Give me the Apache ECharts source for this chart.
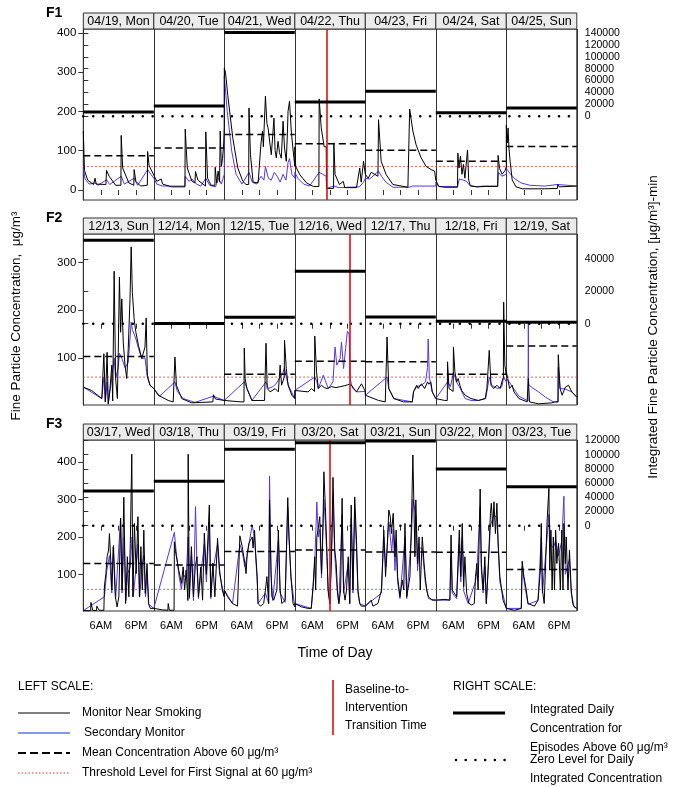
<!DOCTYPE html>
<html>
<head>
<meta charset="utf-8">
<script src="https://cdn.jsdelivr.net/npm/echarts@6/dist/echarts.min.js"></script>
<style>
  html, body { margin: 0; padding: 0; background: #fff; }
  #main { width: 683px; height: 787px; }
</style>
</head>
<body>
<div id="main"></div>
<script>
// ---- day strip labels ----
const f1Days = ['04/19, Mon', '04/20, Tue', '04/21, Wed', '04/22, Thu', '04/23, Fri', '04/24, Sat', '04/25, Sun'];
const f2Days = ['12/13, Sun', '12/14, Mon', '12/15, Tue', '12/16, Wed', '12/17, Thu', '12/18, Fri', '12/19, Sat'];
const f3Days = ['03/17, Wed', '03/18, Thu', '03/19, Fri', '03/20, Sat', '03/21, Sun', '03/22, Mon', '03/23, Tue'];

// ---- time series, one list of [hour of day, ug/m3] per day ----
const f1Black = [
  [[0,150],[0.4,50],[1.5,25],[3.5,14],[4.0,30],[4.4,15],[7.7,14],[7.9,50],[8.8,35],[11,12],[12.8,12],[12.9,139],[13.4,56],[15.5,18],[17.2,12],[17.3,52],[17.9,22],[19.5,10],[21.8,12],[21.9,98],[22.4,62],[24,38]],
  [[0,39],[1,22],[2.5,28],[3,15],[6,8],[10.6,8],[10.7,155],[11.4,56],[13,22],[14,18],[14.2,47],[15,25],[17.6,10],[17.7,148],[18.3,30],[19.5,12],[20.8,12],[20.9,58],[21.4,18],[21.9,48],[22.4,20],[22.6,150],[23,60],[23.4,80],[23.8,120],[24,160]],
  [[0,310],[0.4,300],[1.2,240],[2.9,132],[4.6,56],[6.3,22],[7.4,14],[8.3,14],[8.4,209],[8.9,90],[9.8,20],[11.5,18],[12.5,120],[13.0,150],[13.3,110],[14.0,239],[14.5,170],[14.9,158],[15.5,120],[16,90],[16.5,140],[16.9,183],[17.3,100],[17.7,82],[18.3,124],[18.8,95],[19.4,81],[20,175],[20.5,107],[21.1,73],[21.5,150],[21.7,200],[22.2,226],[22.8,150],[23.3,110],[24,60]],
  [[0,110],[0.3,60],[1.7,39],[4,18],[6.3,9],[8.2,9],[8.3,232],[9,158],[10,110],[10.7,110],[10.8,4],[13.2,4],[13.3,120],[13.7,40],[15.2,14],[16.5,22],[17,6],[21,6],[22.1,56],[22.6,20],[23.4,73],[24,40]],
  [[0,40],[1,30],[2,45],[4.3,35],[4.5,179],[5.4,73],[7.1,39],[9.4,14],[14.5,7],[15.0,7],[15.1,206],[16.2,150],[17.3,115],[19,82],[20.7,60],[22.4,52],[23.6,48],[24,25]],
  [[0,22],[1,9],[3,7],[7.4,7],[7.5,94],[7.9,56],[8.4,86],[8.9,40],[9.4,65],[9.9,30],[10.8,102],[11.2,25],[11.8,10],[14,8],[17,9],[21.1,9],[21.2,88],[21.7,55],[22.6,40],[23.6,50],[24,60]],
  [[0,165],[0.3,120],[0.6,158],[0.9,107],[1.3,73],[2,26],[3.3,8],[5.5,3],[13,3],[17.4,4],[17.5,14],[18,8],[24,10]]
];
const f1Blue = [
  [[0,56],[0.6,28],[2,15],[4,18],[5,12],[7.9,26],[9,14],[12.9,35],[14,15],[17.3,30],[18.5,12],[21.9,52],[23,40],[24,30]],
  [[0,30],[1,15],[3,10],[10.6,10],[10.7,35],[12,22],[13,28],[14.5,15],[16,10],[17.7,30],[19,12],[21,8],[22,30],[23,15],[24,40]],
  [[0,290],[1,200],[2.5,100],[4,40],[6,15],[8.4,45],[9.5,20],[11,15],[12.5,35],[13.5,25],[14,60],[15,30],[16,25],[17,45],[18,35],[19,20],[20,40],[21,25],[21.7,70],[22.2,80],[23,40],[24,30]],
  [[0,45],[1,30],[3,15],[5,10],[8.3,45],[9.5,40],[10.7,35],[10.8,4],[13.3,10],[15,6],[22,8],[23.4,20],[24,25]],
  [[0,30],[1.5,28],[4.5,48],[5.5,35],[7,20],[9.4,7],[15,7],[16,10],[24,10]],
  [[0,20],[1,9],[7.4,9],[8,28],[9,26],[10.5,22],[11.5,12],[14,8],[16,10],[21,10],[21.3,45],[22.5,35],[24,40]],
  [[0,55],[0.5,58],[1.5,40],[3,28],[5,18],[8,12],[13,10],[17.5,14],[18,11],[24,10]]
];
const f2Black = [
  [[0,39],[2.8,32],[6.3,15],[6.9,11],[7.0,109],[7.5,8],[8.1,112],[8.5,4],[9.1,36],[9.7,85],[10.0,10],[10.5,282],[11,57],[11.6,15],[11.9,112],[12.3,270],[12.7,154],[13.1,224],[13.6,133],[14.2,85],[14.8,57],[15.3,120],[15.9,224],[16.3,333],[16.7,238],[17.3,182],[17.9,154],[18.8,126],[19.9,99],[21,123],[21.4,184],[21.8,64],[22.7,43],[24,36]],
  [[0,36],[1.5,22],[4.9,11],[6.6,8],[7.1,8],[7.2,102],[7.7,43],[9.5,15],[12.9,6],[16.3,7],[16.8,11],[20.1,8],[20.3,23],[21,14],[24,11]],
  [[0,11],[5.7,8],[6.7,8],[6.8,121],[7.1,57],[7.7,36],[9.4,11],[13.7,11],[14.2,131],[14.6,36],[15.6,29],[17.3,36],[18.4,29],[19,85],[19.5,43],[20.4,60],[20.5,137],[21.1,78],[21.7,43],[23,22],[24,15]],
  [[0,32],[4.5,29],[5.7,36],[6.7,30],[6.8,146],[7.4,71],[8,36],[9.1,43],[10,38],[11,36],[12.5,40],[14,38],[15.5,40],[17,42],[18.6,45],[18.8,45],[19.3,43],[19.9,36],[21,29],[22.7,46],[23.5,36],[24,30]],
  [[0,22],[4.5,11],[6.8,8],[7.3,8],[7.4,144],[8,36],[9.7,15],[13,8],[16,8],[16.4,29],[17.5,43],[18,36],[19.1,46],[20.2,36],[21.2,50],[21.6,45],[22.3,50],[22.8,29],[24,15]],
  [[0,15],[3,11],[3.9,11],[4,92],[4.5,36],[5.9,30],[6.0,123],[6.5,71],[7.1,50],[7.6,57],[8.2,43],[8.8,32],[10,22],[12,15],[14.5,11],[16.8,15],[17.4,36],[18.2,116],[18.8,43],[19.7,36],[20.8,43],[21.9,36],[22.5,50],[23.0,60],[23.1,217],[23.5,85],[24,64]],
  [[0,71],[0.5,57],[1.1,36],[2,43],[2.6,29],[4.3,15],[7.1,8],[7.4,8],[7.5,57],[7.9,8],[11,4],[15.5,6],[16.5,8],[17.6,8],[17.7,107],[18.3,36],[19,22],[20.1,39],[20.7,36],[21.2,43],[22.3,29],[24,18]]
];
const f2Blue = [
  [[0,39],[6.3,15],[7.0,60],[7.5,8],[8.1,50],[8.5,4],[9.7,60],[10.5,100],[11,57],[11.9,80],[12.3,110],[13.1,100],[14.2,80],[15.3,90],[16.3,175],[16.7,160],[17.9,140],[18.8,120],[19.9,99],[21,100],[21.8,60],[22.7,43],[24,36]],
  [[0,33],[2,20],[7.2,50],[8,30],[10,15],[14,7],[20.3,20],[24,11]],
  [[0,11],[6.8,50],[7.5,40],[9.4,11],[14.2,50],[15,36],[16.5,40],[17.5,45],[19,60],[20,70],[20.5,80],[21.1,60],[22,40],[24,15]],
  [[0,32],[6.8,60],[7.5,50],[8,36],[9.7,64],[11.4,36],[13,50],[13.7,123],[14.3,85],[15.4,99],[15.9,133],[16.6,78],[17.3,120],[17.9,156],[18.5,150],[18.8,60],[19.3,43],[21,29],[24,30]],
  [[0,22],[7.4,60],[8,36],[9.7,15],[16,8],[16.4,29],[17.5,40],[19.1,43],[20.5,50],[21.2,80],[21.4,140],[21.8,60],[22.8,29],[24,15]],
  [[0,15],[4,50],[5,40],[6,70],[7,50],[8,40],[10,15],[12,11],[14.5,11],[17,15],[18.2,60],[19,43],[21,36],[22.5,40],[23.1,60],[24,50]],
  [[0,57],[1,50],[2,40],[4.3,20],[7.4,10],[7.5,174],[7.6,45],[8.5,39],[11,29],[13.3,18],[16,8],[17.6,8],[17.7,80],[18.3,36],[20,35],[22.3,29],[24,18]]
];
const f3Black = [
  [[0,3],[2.5,3],[2.6,25],[3.2,4],[4.5,3],[4.6,15],[5.4,4],[7.0,4],[7.2,69],[7.7,102],[8.1,147],[8.6,165],[8.9,209],[9.4,129],[9.7,58],[10.2,174],[10.9,40],[11.5,13],[12.1,40],[12.7,250],[13.2,58],[13.8,306],[14.4,22],[15,147],[15.5,40],[16,183],[16.5,421],[16.9,40],[17.4,236],[18,102],[18.6,254],[19.1,40],[19.6,174],[20.1,58],[20.6,218],[21.1,49],[21.7,129],[22.2,22],[22.8,9],[24,9]],
  [[0,9],[3,5],[4.8,4],[4.9,22],[5.3,4],[6.9,4],[7.0,187],[7.4,160],[8.5,111],[9.4,76],[10,120],[10.5,58],[11,111],[11.6,30],[11.7,421],[12.1,40],[12.8,174],[13.5,40],[14.1,120],[14.7,147],[15.2,40],[16,120],[16.6,31],[17.2,210],[17.9,100],[18.9,285],[19.4,40],[20.1,130],[20.8,40],[21.7,196],[22.4,111],[23.3,58],[24,40]],
  [[0,58],[1.1,40],[2.8,22],[4.5,15],[5.1,18],[5.3,203],[6.1,174],[7.0,129],[7.4,102],[7.8,156],[8.4,183],[8.9,191],[9.5,200],[9.8,170],[10.3,218],[10.6,165],[11.2,94],[11.5,22],[12.3,15],[13.4,22],[14,58],[14.5,94],[15.1,22],[15.4,299],[15.9,111],[16.2,40],[16.8,31],[17.9,58],[18.4,218],[19.0,58],[19.6,22],[20.7,31],[21.6,305],[22,200],[22.7,94],[23.4,22],[24,13]],
  [[0,22],[2.3,13],[4.5,9],[5.6,9],[6.2,67],[6.8,147],[7.1,58],[7.5,200],[7.9,218],[8.5,254],[9.1,102],[9.6,236],[9.9,374],[10.4,281],[11,147],[11.3,58],[11.9,22],[12.5,147],[13.0,359],[13.6,165],[14.1,129],[14.5,58],[15,22],[15.6,58],[16.1,303],[16.6,58],[17.1,31],[17.6,58],[18.2,147],[18.7,22],[19.2,285],[19.8,58],[20.4,307],[21,191],[21.5,58],[22.1,22],[22.6,15],[24,15]],
  [[0,15],[2,31],[2.6,15],[4.3,22],[5.5,58],[6.3,218],[6.9,94],[7.4,165],[8.0,272],[8.5,254],[8.9,209],[9.5,263],[10.1,147],[10.5,218],[11,94],[11.8,40],[12.6,84],[13.1,58],[13.5,236],[14.1,40],[15.2,94],[15.7,236],[16.2,419],[16.9,147],[17.2,299],[17.8,129],[18.3,200],[18.7,58],[19.4,200],[20,129],[20.4,94],[20.9,58],[21.5,40],[22.7,31],[24,31]],
  [[0,36],[3.1,33],[4.8,31],[5.2,205],[5.6,58],[7.1,40],[8,218],[8.5,94],[9,236],[9.5,67],[9.9,147],[10.5,49],[11.3,22],[12.2,18],[13.1,22],[13.5,94],[14,129],[14.4,58],[15.1,328],[15.5,129],[16.1,58],[16.7,147],[17.2,22],[17.8,111],[18.6,263],[18.9,290],[19.4,227],[19.8,294],[20.3,209],[20.8,290],[21.2,191],[21.8,94],[22.9,31],[24,9]],
  [[0,9],[2.8,4],[5.1,9],[5.4,135],[6,94],[6.8,58],[7.4,22],[9.6,15],[10.8,31],[11.6,111],[11.9,236],[12.3,58],[12.9,22],[13.6,178],[13.9,245],[14.5,330],[14.8,111],[15.2,218],[15.6,58],[16,200],[16.4,58],[16.8,218],[17.2,129],[17.8,183],[18.4,58],[18.9,218],[19.3,58],[19.6,236],[20.1,129],[20.4,200],[21,58],[21.5,165],[22.1,58],[22.6,22],[23.1,13],[24,9]]
];
const f3Blue = [
  [[0,3],[7.2,40],[8,110],[8.9,150],[9.7,50],[10.3,178],[11,35],[12.7,250],[13.2,50],[13.9,200],[14.5,30],[15,100],[16,120],[16.6,200],[17,40],[18,120],[18.6,180],[19.2,40],[20,120],[20.6,150],[21.2,40],[21.7,100],[22.3,20],[24,9]],
  [[0,9],[7.0,212],[7.5,170],[8.5,100],[9.4,60],[10,100],[11,90],[11.7,200],[12.1,35],[12.8,150],[13.5,30],[14.2,281],[14.7,120],[15.2,35],[16,100],[17.2,180],[17.9,80],[18.9,240],[19.4,35],[20.1,110],[21.7,180],[22.4,100],[24,40]],
  [[0,58],[2.8,22],[5.3,180],[6.1,160],[7,120],[7.8,150],[9,210],[9.5,230],[10.3,200],[11.2,80],[11.5,22],[14,50],[15.1,22],[15.4,363],[15.9,100],[16.5,30],[18.4,190],[19,50],[20.7,25],[21.6,280],[22.7,90],[24,13]],
  [[0,22],[5.6,9],[6.2,60],[6.8,130],[7.5,293],[8,200],[8.5,220],[9.1,90],[9.9,300],[10.4,240],[11,130],[11.5,50],[12,22],[13,300],[13.6,150],[14.5,50],[15,22],[16.1,260],[16.6,50],[18.2,130],[18.7,22],[19.2,250],[19.8,50],[20.4,270],[21,170],[21.5,50],[22.1,22],[24,15]],
  [[0,15],[5.5,50],[6.3,200],[7,120],[8,240],[9,160],[9.5,220],[10.1,110],[10.5,180],[11,80],[11.8,35],[13.5,200],[14.1,35],[15.7,200],[16.2,300],[17.2,260],[17.8,110],[18.3,170],[19.4,170],[20.4,80],[21.5,35],[24,31]],
  [[0,36],[4.8,31],[5.2,150],[5.6,50],[7.1,35],[8,180],[8.5,80],[9,200],[9.5,55],[11,22],[13.5,80],[14,110],[15.1,280],[15.5,110],[16.1,50],[16.7,120],[17.2,22],[18.6,230],[19.8,260],[20.8,250],[21.8,80],[24,9]],
  [[0,9],[5.1,9],[5.4,120],[6.5,60],[7.4,20],[10.8,30],[11.9,200],[12.3,50],[13.9,200],[14.5,260],[15.2,180],[16,170],[16.8,190],[17.8,150],[18.9,190],[19.6,309],[20.1,100],[21.5,140],[22.1,50],[23.1,13],[24,9]]
];

// ---- daily summaries ----
const f1Mean = [87, 107, 141, 118, 101, 73, 111];
const f2Mean = [103, null, 66, 93, 92, 66, 125];
const f3Mean = [129, 125, 161, 165, 160, 159, 113];
const f1Integrated = [7200, 17300, 141000, 24000, 42000, 6100, 14000];
const f2Integrated = [51600, 200, 4000, 32400, 4100, 1500, 900];
const f3Integrated = [48900, 62500, 107600, 116900, 119300, 79900, 55000];
const transitionHour = [82.8, 90.8, 83.9];   // hours from start of week
const threshold = 60;

const leftTicks = [[0, 100, 200, 300, 400], [100, 200, 300], [100, 200, 300, 400]];
const rightTicks = [
  [0, 20000, 40000, 60000, 80000, 100000, 120000, 140000],
  [0, 20000, 40000],
  [0, 20000, 40000, 60000, 80000, 100000, 120000]
];

const panels = [
  { label: 'F1', days: f1Days, black: f1Black, blue: f1Blue, mean: f1Mean, integ: f1Integrated, top: 29, yMin: -25.5, yMax: 410, rMin: -140700, rMax: 146700, xLabels: false },
  { label: 'F2', days: f2Days, black: f2Black, blue: f2Blue, mean: f2Mean, integ: f2Integrated, top: 234, yMin: 1.5, yMax: 360, rMin: -50300, rMax: 55500, xLabels: false },
  { label: 'F3', days: f3Days, black: f3Black, blue: f3Blue, mean: f3Mean, integ: f3Integrated, top: 440, yMin: 2, yMax: 459, rMin: -120100, rMax: 120700, xLabels: true }
];

const LEFT = 83.3, WIDTH = 493.5, HEIGHT = 171, STRIP = 16;
const FONT = 'Liberation Sans, Arial, Helvetica, sans-serif';
const BLUE = '#5a35e6';
const EDGE = '#333';

function flatten(days) {
  const out = [];
  days.forEach((pts, d) => pts.forEach(p => out.push([d * 24 + p[0], p[1]])));
  return out;
}
function segments(vals) {
  const out = [];
  vals.forEach((v, d) => {
    if (v == null) return;
    out.push([d * 24, v], [d * 24 + 24, v], [d * 24 + 24, '-']);
  });
  return out;
}

const chart = echarts.init(document.getElementById('main'), null, { renderer: 'canvas' });

const grid = [], xAxis = [], yAxis = [], series = [];
panels.forEach((p, i) => {
  grid.push({ left: LEFT, top: p.top, width: WIDTH, height: HEIGHT, show: true, borderColor: EDGE, borderWidth: 1, backgroundColor: 'transparent' });
  xAxis.push({
    type: 'value', gridIndex: i, min: 0, max: 168, interval: 6,
    axisLine: { show: false },
    axisTick: { show: true, inside: false, length: 5, lineStyle: { color: EDGE } },
    axisLabel: {
      show: p.xLabels, fontFamily: FONT, fontSize: 11, color: '#000', margin: 9,
      formatter: v => (v % 24 === 6 ? '6AM' : v % 24 === 18 ? '6PM' : '')
    },
    splitLine: { show: false }
  });
  xAxis.push({
    type: 'value', gridIndex: i, min: 0, max: 168, interval: 24,
    axisLine: { show: false }, axisTick: { show: false }, axisLabel: { show: false },
    splitLine: { show: true, lineStyle: { color: EDGE, width: 1 } }
  });
  yAxis.push({
    type: 'value', gridIndex: i, min: p.yMin, max: p.yMax, position: 'left',
    axisLine: { show: true, lineStyle: { color: EDGE } },
    axisTick: { show: true, length: 5, customValues: leftTicks[i], lineStyle: { color: EDGE } },
    axisLabel: { customValues: leftTicks[i], fontFamily: FONT, fontSize: 11.5, color: '#000', margin: 7 },
    splitLine: { show: false }
  });
  yAxis.push({
    type: 'value', gridIndex: i, min: p.rMin, max: p.rMax, position: 'right',
    axisLine: { show: true, lineStyle: { color: EDGE } },
    axisTick: { show: true, length: 5, customValues: rightTicks[i], lineStyle: { color: EDGE } },
    axisLabel: { customValues: rightTicks[i], fontFamily: FONT, fontSize: 10.5, color: '#000', margin: 8, formatter: v => String(v) },
    splitLine: { show: false }
  });

  const xa = i * 2, ya = i * 2;
  series.push({
    type: 'line', xAxisIndex: xa, yAxisIndex: ya, data: [[0, threshold], [168, threshold]],
    showSymbol: false, silent: true, z: 1,
    lineStyle: { color: '#e8302a', width: 1, type: [1.5, 2.5] }
  });
  series.push({
    type: 'line', xAxisIndex: xa, yAxisIndex: ya, data: flatten(p.blue),
    showSymbol: false, silent: true, z: 2,
    lineStyle: { color: BLUE, width: 1 }
  });
  series.push({
    type: 'line', xAxisIndex: xa, yAxisIndex: ya, data: flatten(p.black),
    showSymbol: false, silent: true, z: 3,
    lineStyle: { color: '#000', width: 1 },
    markLine: {
      silent: true, symbol: 'none', label: { show: false },
      lineStyle: { color: '#e01010', width: 1.6, type: 'solid' },
      data: [{ xAxis: transitionHour[i] }]
    }
  });
  series.push({
    type: 'line', xAxisIndex: xa, yAxisIndex: ya, data: segments(p.mean),
    showSymbol: false, silent: true, z: 4, connectNulls: false,
    lineStyle: { color: '#000', width: 1.5, type: [7, 4] }
  });
  series.push({
    type: 'line', xAxisIndex: xa, yAxisIndex: ya + 1, data: [[0, 0], [168, 0]],
    showSymbol: false, silent: true, z: 4,
    lineStyle: { color: '#000', width: 2.6, type: [0.01, 9.9], cap: 'round' }
  });
  series.push({
    type: 'line', xAxisIndex: xa, yAxisIndex: ya + 1, data: segments(p.integ),
    showSymbol: false, silent: true, z: 5, connectNulls: false,
    lineStyle: { color: '#000', width: 3, cap: 'butt' }
  });
});

chart.setOption({
  animation: false,
  backgroundColor: '#fff',
  textStyle: { fontFamily: FONT },
  grid, xAxis, yAxis, series
});

// ---- strips, titles and legend as graphics ----
const graphic = [];
panels.forEach((p, i) => {
  p.days.forEach((name, d) => {
    const x0 = chart.convertToPixel({ xAxisIndex: i * 2 }, d * 24);
    const x1 = chart.convertToPixel({ xAxisIndex: i * 2 }, d * 24 + 24);
    graphic.push({
      type: 'rect', shape: { x: x0, y: p.top - STRIP, width: x1 - x0, height: STRIP },
      style: { fill: '#ebebeb', stroke: EDGE, lineWidth: 1 }, silent: true
    });
    graphic.push({
      type: 'text', x: (x0 + x1) / 2, y: p.top - STRIP / 2 + 0.5, silent: true,
      style: { text: name, fontFamily: FONT, fontSize: 12.5, fill: '#000', align: 'center', verticalAlign: 'middle' }
    });
  });
  graphic.push({
    type: 'text', x: 46, y: p.top - 16, silent: true,
    style: { text: p.label, fontFamily: FONT, fontSize: 14, fontWeight: 'bold', fill: '#000', align: 'left', verticalAlign: 'middle' }
  });
});

graphic.push({
  type: 'text', x: 16, y: 316, rotation: Math.PI / 2, silent: true,
  style: { text: 'Fine Particle Concentration,  μg/m³', fontFamily: FONT, fontSize: 13.5, fill: '#000', align: 'center', verticalAlign: 'middle' }
});
graphic.push({
  type: 'text', x: 653, y: 327, rotation: Math.PI / 2, silent: true,
  style: { text: 'Integrated Fine Particle Concentration, [μg/m³]-min', fontFamily: FONT, fontSize: 13.5, fill: '#000', align: 'center', verticalAlign: 'middle' }
});
graphic.push({
  type: 'text', x: 335, y: 653, silent: true,
  style: { text: 'Time of Day', fontFamily: FONT, fontSize: 14, fill: '#000', align: 'center', verticalAlign: 'middle' }
});

function legendText(x, y, text) {
  graphic.push({ type: 'text', x, y, silent: true,
    style: { text, fontFamily: FONT, fontSize: 12, fill: '#000', align: 'left', verticalAlign: 'middle' } });
}
function legendLine(x1, y1, x2, y2, style) {
  graphic.push({ type: 'line', silent: true, shape: { x1, y1, x2, y2 }, style });
}

legendText(18, 687, 'LEFT SCALE:');
legendLine(18, 713, 70, 713, { stroke: '#000', lineWidth: 1 });
legendText(82, 713, 'Monitor Near Smoking');
legendLine(18, 733, 70, 733, { stroke: '#1030e0', lineWidth: 1 });
legendText(84, 733, 'Secondary Monitor');
legendLine(18, 753, 70, 753, { stroke: '#000', lineWidth: 2, lineDash: [8, 4] });
legendText(82, 753, 'Mean Concentration Above 60 μg/m³');
legendLine(18, 773, 70, 773, { stroke: '#e8302a', lineWidth: 1, lineDash: [1.5, 2] });
legendText(82, 773, 'Threshold Level for First Signal at 60 μg/m³');

legendLine(333, 680, 333, 735, { stroke: '#e01010', lineWidth: 1.6 });
legendText(345, 690, 'Baseline-to-');
legendText(345, 708, 'Intervention');
legendText(345, 726, 'Transition Time');

legendText(453, 687, 'RIGHT SCALE:');
legendLine(453, 713, 505, 713, { stroke: '#000', lineWidth: 3 });
legendText(530, 710, 'Integrated Daily');
legendText(530, 729, 'Concentration for');
legendText(530, 748, 'Episodes Above 60 μg/m³');
legendLine(456, 760, 505, 760, { stroke: '#000', lineWidth: 2.6, lineDash: [0.01, 9.7], lineCap: 'round' });
legendText(530, 760, 'Zero Level for Daily');
legendText(530, 779, 'Integrated Concentration');

chart.setOption({ graphic });
</script>
</body>
</html>
